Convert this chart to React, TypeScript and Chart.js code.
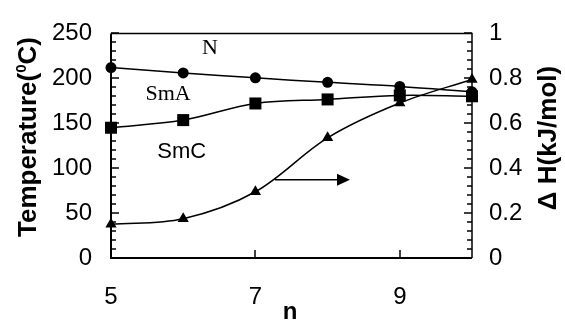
import React, { useEffect, useRef } from "react";
import { Chart, registerables } from "chart.js";

Chart.register(...registerables);

// Alkyl chain length n
const N_VALUES = [5, 6, 7, 8, 9, 10];
// N–SmA transition temperature (°C)
const T_N_SMA = [212, 206, 200.5, 195.5, 191, 185];
// SmA–SmC transition temperature (°C)
const T_SMA_SMC = [145, 153.5, 172, 176.5, 181, 180];
// Transition enthalpy ΔH (kJ/mol), right axis
const DELTA_H = [0.15, 0.175, 0.295, 0.535, 0.69, 0.795];

const X_TICKS = [5, 7, 9];
const T_TICKS = [0, 50, 100, 150, 200, 250];
const H_TICKS = [0, 0.2, 0.4, 0.6, 0.8, 1];

const SANS = "'Liberation Sans', Arial, sans-serif";
const SERIF = "'Liberation Serif', 'Times New Roman', serif";

// Phase labels placed in (n, temperature) coordinates
const PHASE_LABELS = [
  { text: "N", n: 6.37, t: 234, font: `22px ${SERIF}` },
  { text: "SmA", n: 5.79, t: 182, font: `22px ${SERIF}` },
  { text: "SmC", n: 5.98, t: 118, font: `22px ${SANS}` },
];

// Arrow pointing the ΔH curve to its (right-hand) axis
const ARROW = { n0: 7.27, n1: 8.31, t: 87 };

const decorations = {
  id: "decorations",
  afterDatasetsDraw(chart: any) {
    const { ctx, chartArea: a } = chart;
    const yL = chart.scales.y;
    const yR = chart.scales.y1;
    const x = chart.scales.x;
    ctx.save();
    ctx.lineCap = "butt";
    ctx.strokeStyle = "#000";
    // frame
    ctx.lineWidth = 1.5;
    ctx.beginPath();
    ctx.moveTo(a.left, a.top);
    ctx.lineTo(a.right, a.top);
    ctx.lineTo(a.right, a.bottom);
    ctx.stroke();
    ctx.lineWidth = 2;
    ctx.beginPath();
    ctx.moveTo(a.left, a.top);
    ctx.lineTo(a.left, a.bottom);
    ctx.lineTo(a.right, a.bottom);
    ctx.stroke();
    // inward tick marks: majors on labelled values, minors between
    ctx.lineWidth = 1.5;
    for (let i = 0; i <= 25; i++) {
      const py = Math.round(yL.getPixelForValue(i * 10));
      const len = i % 5 === 0 ? 8 : 5;
      ctx.beginPath();
      ctx.moveTo(a.left, py);
      ctx.lineTo(a.left + len, py);
      ctx.stroke();
    }
    for (let i = 0; i <= 25; i++) {
      const py = Math.round(yR.getPixelForValue(i * 0.04));
      const len = i % 5 === 0 ? 8 : 5;
      ctx.beginPath();
      ctx.moveTo(a.right, py);
      ctx.lineTo(a.right - len, py);
      ctx.stroke();
    }
    for (const v of X_TICKS) {
      const px = Math.round(x.getPixelForValue(v));
      ctx.beginPath();
      ctx.moveTo(px, a.bottom);
      ctx.lineTo(px, a.bottom - 8);
      ctx.stroke();
    }
    ctx.restore();
  },
  afterDraw(chart: any) {
    const { ctx } = chart;
    const yL = chart.scales.y;
    const x = chart.scales.x;
    ctx.save();
    ctx.fillStyle = "#000";
    ctx.strokeStyle = "#000";
    ctx.textAlign = "center";
    ctx.textBaseline = "middle";
    for (const l of PHASE_LABELS) {
      ctx.font = l.font;
      ctx.fillText(l.text, x.getPixelForValue(l.n), yL.getPixelForValue(l.t));
    }
    // arrow
    const ax0 = x.getPixelForValue(ARROW.n0);
    const ax1 = x.getPixelForValue(ARROW.n1);
    const ay = yL.getPixelForValue(ARROW.t);
    ctx.lineWidth = 1.5;
    ctx.beginPath();
    ctx.moveTo(ax0, ay);
    ctx.lineTo(ax1 - 10, ay);
    ctx.stroke();
    ctx.beginPath();
    ctx.moveTo(ax1, ay);
    ctx.lineTo(ax1 - 13, ay - 6);
    ctx.lineTo(ax1 - 13, ay + 6);
    ctx.closePath();
    ctx.fill();

    // left axis title with superscript
    const big = `bold 26px ${SANS}`;
    const small = `bold 15px ${SANS}`;
    const p1 = "Temperature(";
    const p2 = "0";
    const p3 = "C)";
    ctx.font = big;
    const w1 = ctx.measureText(p1).width;
    const w3 = ctx.measureText(p3).width;
    ctx.font = small;
    const w2 = ctx.measureText(p2).width;
    const total = w1 + w2 + w3;
    ctx.save();
    ctx.translate(27, 137);
    ctx.rotate(-Math.PI / 2);
    ctx.textAlign = "left";
    ctx.textBaseline = "alphabetic";
    const base = 9;
    ctx.font = big;
    ctx.fillText(p1, -total / 2, base);
    ctx.font = small;
    ctx.fillText(p2, -total / 2 + w1, base - 10);
    ctx.font = big;
    ctx.fillText(p3, -total / 2 + w1 + w2, base);
    ctx.restore();

    // right axis title
    ctx.save();
    ctx.translate(549, 138);
    ctx.rotate(-Math.PI / 2);
    ctx.font = big;
    ctx.textAlign = "center";
    ctx.textBaseline = "middle";
    ctx.fillText("\u0394 H(kJ/mol)", 0, 0);
    ctx.restore();

    // x axis title
    ctx.font = `bold 24px ${SANS}`;
    ctx.textAlign = "center";
    ctx.textBaseline = "alphabetic";
    ctx.fillText("n", 290, 319);
    ctx.restore();
  },
};

function points(ys: number[]) {
  return N_VALUES.map((n, i) => ({ x: n, y: ys[i] }));
}

export default function App() {
  const canvasRef = useRef<HTMLCanvasElement | null>(null);

  useEffect(() => {
    const canvas = canvasRef.current;
    if (!canvas) return;
    const tickFont = { family: SANS, size: 24 };
    const plainLabel = (v: any) => String(Number(v));
    const line = {
      borderColor: "#000",
      backgroundColor: "#000",
      pointBackgroundColor: "#000",
      pointBorderColor: "#000",
      borderWidth: 1.5,
      pointBorderWidth: 0,
      tension: 0.35,
      fill: false,
      clip: false,
    };
    const chart = new Chart(canvas, {
      type: "line",
      data: {
        datasets: [
          { ...line, label: "N–SmA", data: points(T_N_SMA), yAxisID: "y", pointStyle: "circle", pointRadius: 5.5 },
          { ...line, label: "SmA–SmC", data: points(T_SMA_SMC), yAxisID: "y", pointStyle: "rect", pointRadius: 8.5 },
          { ...line, label: "ΔH", data: points(DELTA_H), yAxisID: "y1", pointStyle: "triangle", pointRadius: 6.5 },
        ],
      },
      plugins: [decorations],
      options: {
        animation: false,
        responsive: false,
        devicePixelRatio: 1,
        layout: { padding: { top: 25, left: 0, right: 0, bottom: 0 } },
        plugins: { legend: { display: false }, tooltip: { enabled: false } },
        scales: {
          x: {
            type: "linear",
            position: "bottom",
            min: 5,
            max: 10,
            afterBuildTicks: (s: any) => {
              s.ticks = X_TICKS.map((value) => ({ value }));
            },
            afterFit: (s: any) => {
              s.height = 62;
            },
            grid: { display: false, drawTicks: false },
            border: { display: false },
            ticks: { color: "#000", font: tickFont, padding: 25, maxRotation: 0, callback: plainLabel },
          },
          y: {
            type: "linear",
            position: "left",
            min: 0,
            max: 250,
            afterBuildTicks: (s: any) => {
              s.ticks = T_TICKS.map((value) => ({ value }));
            },
            afterFit: (s: any) => {
              s.width = 111;
            },
            grid: { display: false, drawTicks: false },
            border: { display: false },
            ticks: { color: "#000", font: tickFont, padding: 19, callback: plainLabel },
          },
          y1: {
            type: "linear",
            position: "right",
            min: 0,
            max: 1,
            afterBuildTicks: (s: any) => {
              s.ticks = H_TICKS.map((value) => ({ value }));
            },
            afterFit: (s: any) => {
              s.width = 93;
            },
            grid: { display: false, drawTicks: false },
            border: { display: false },
            ticks: { color: "#000", font: tickFont, padding: 17, callback: plainLabel },
          },
        },
      },
    } as any);
    return () => chart.destroy();
  }, []);

  return (
    <div style={{ position: "absolute", left: 0, top: 0, width: 565, height: 320, background: "#fff" }}>
      <canvas ref={canvasRef} width={565} height={320} style={{ display: "block" }} />
    </div>
  );
}
